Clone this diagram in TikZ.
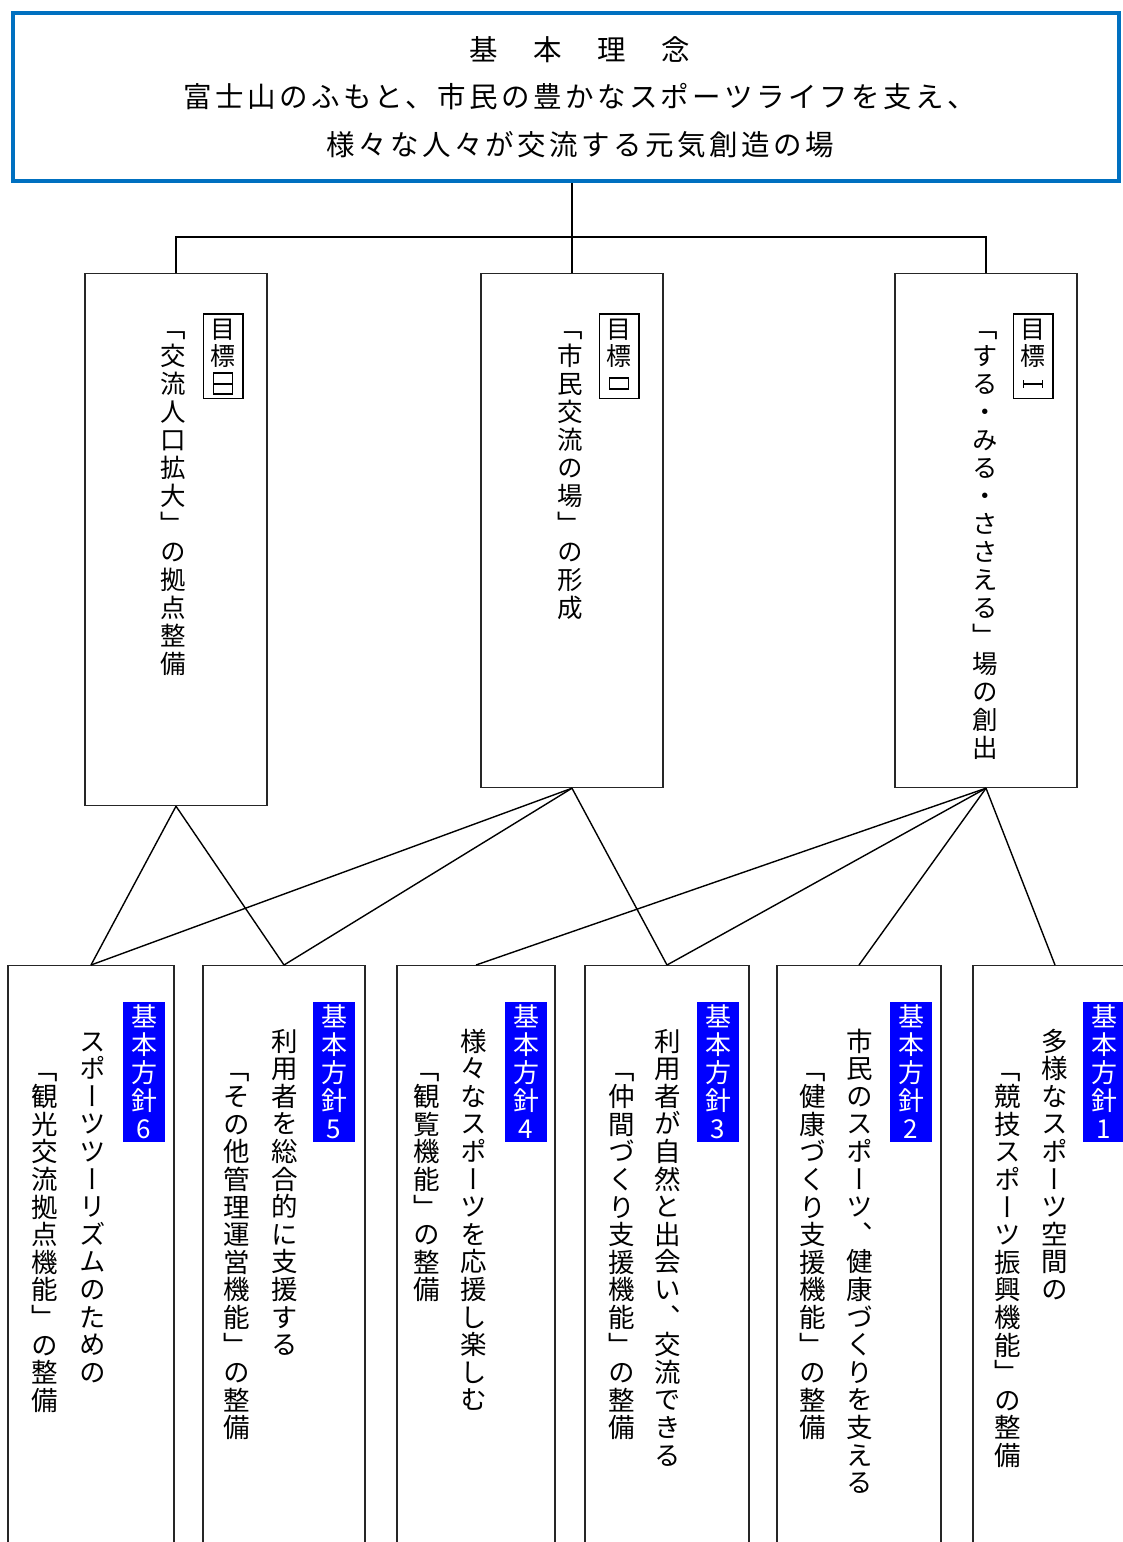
\documentclass[tikz,border=0pt]{standalone}
\usepackage{fontspec}
\usepackage{graphicx}
\setmainfont{Noto Sans CJK JP}
\newfontfamily\tatefont{Noto Sans CJK JP}[RawFeature=+vert] % vertical forms of 「」、ー
\newfontfamily\yokofont{Noto Sans CJK JP}[LetterSpace=12]
\usetikzlibrary{positioning}

\definecolor{rinenblue}{RGB}{0,112,192}
\definecolor{houshinblue}{RGB}{0,0,255}

% vertical writing: one character per cell, cells stacked downwards
\newlength\tpitch
\newcommand\tchar[1]{\hbox to\tpitch{\hss\vrule height\dimexpr.5\tpitch+.38em\relax depth\dimexpr.5\tpitch-.38em\relax width0pt\smash{#1}\hss}}
\def\tateend{}
\def\tatelist#1{\ifx#1\tateend\else\tchar{#1}\expandafter\tatelist\fi}
\newcommand\tate[1]{\vbox{\offinterlineskip\tatelist#1\tateend}}

% roman numeral lying on its side: #1 height, #2 raise, #3 strokes
\newcommand\sideroman[3]{\raise#2\hbox{\vrule width1.4pt height#1 depth0pt\vbox to#1{#3}\vrule width1.4pt height#1 depth0pt}}
\newcommand\romanstroke{\hrule width.7em height2pt}

\tikzset{
    x=1pt, y=-1pt, % pixel units, y grows downwards
    rinen/.style={draw=rinenblue, line width=4pt, minimum width=1106pt, minimum height=168pt}, % top box
    rinentext/.style={align=center, font=\yokofont\fontsize{28.5}{47.5}\selectfont},
    goal/.style={draw=black!85, line width=1.2pt, minimum width=182pt, anchor=north, inner sep=0pt},
    goallabel/.style={draw, line width=1.5pt, inner xsep=6pt, inner ysep=1pt, anchor=north,
        font=\tatefont\fontsize{25}{25}\selectfont, execute at begin node={\setlength\tpitch{27.5pt}}},
    goaltext/.style={inner sep=0pt, anchor=north,
        font=\tatefont\fontsize{25.5}{25.5}\selectfont, execute at begin node={\setlength\tpitch{28pt}}},
    policy/.style={draw=black!85, line width=1.2pt, minimum height=600pt, anchor=north, inner sep=0pt},
    policylabel/.style={fill=houshinblue, text=white, inner xsep=7pt, inner ysep=0pt, anchor=north,
        font=\tatefont\fontsize{26}{26}\selectfont, execute at begin node={\setlength\tpitch{28pt}}},
    policytext/.style={inner sep=0pt, anchor=north,
        font=\tatefont\fontsize{26.5}{26.5}\selectfont, execute at begin node={\setlength\tpitch{27.6pt}}},
    link/.style={line width=1.4pt},
}

\begin{document}
\begin{tikzpicture}
\useasboundingbox (0,0) rectangle (1123,1542);
\clip (0,0) rectangle (1123,1542);

% basic idea
\node[rinen] (rinen) at (566,97) {};
\node[rinentext] (rinentxt) at (580,97) {基　本　理　念\\富士山のふもと、市民の豊かなスポーツライフを支え、\\様々な人々が交流する元気創造の場};

% goals
\node[goal, minimum height=532pt] (mk3) at (176,273) {};
\node[goal, minimum height=514pt] (mk2) at (572,273) {};
\node[goal, minimum height=514pt] (mk1) at (986,273) {};
\node[goallabel] (ml3) at (223,313) {\vbox{\offinterlineskip\tchar{目}\tchar{標}\tchar{\sideroman{.9em}{-.07em}{\romanstroke\vfil\romanstroke\vfil\romanstroke}}}};
\node[goallabel] (ml2) at (619,313) {\vbox{\offinterlineskip\tchar{目}\tchar{標}\tchar{\sideroman{.5em}{.13em}{\romanstroke\vfil\romanstroke}}}};
\node[goallabel] (ml1) at (1033,313) {\vbox{\offinterlineskip\tchar{目}\tchar{標}\tchar{\sideroman{.32em}{.22em}{\vfil\romanstroke\vfil}}}};
\node[goaltext] (mt3) at (173,314) {\tate{「交流人口拡大」の拠点整備}};
\node[goaltext] (mt2) at (570,314) {\tate{「市民交流の場」の形成}};
\node[goaltext] (mt1) at (985,314) {\tate{「する・みる・ささえる」場の創出}};

% basic policies
\node[policy, minimum width=166pt] (hs6) at (91,965) {};
\node[policy, minimum width=162pt] (hs5) at (284,965) {};
\node[policy, minimum width=158pt] (hs4) at (476,965) {};
\node[policy, minimum width=164pt] (hs3) at (667,965) {};
\node[policy, minimum width=164pt] (hs2) at (859,965) {};
\node[policy, minimum width=164pt] (hs1) at (1055,965) {};

\node[policylabel] (hl6) at (144,1002) {\tate{基本方針6}};
\node[policylabel] (hl5) at (334,1002) {\tate{基本方針5}};
\node[policylabel] (hl4) at (526,1002) {\tate{基本方針4}};
\node[policylabel] (hl3) at (718,1002) {\tate{基本方針3}};
\node[policylabel] (hl2) at (911,1002) {\tate{基本方針2}};
\node[policylabel] (hl1) at (1104,1002) {\tate{基本方針1}};

\node[policytext] (ha6) at (93,1027) {\tate{スポーツツーリズムのための}};
\node[policytext] (hb6) at (45,1055) {\tate{「観光交流拠点機能」の整備}};
\node[policytext] (ha5) at (285,1027) {\tate{利用者を総合的に支援する}};
\node[policytext] (hb5) at (237,1055) {\tate{「その他管理運営機能」の整備}};
\node[policytext] (ha4) at (474,1027) {\tate{様々なスポーツを応援し楽しむ}};
\node[policytext] (hb4) at (427,1055) {\tate{「観覧機能」の整備}};
\node[policytext] (ha3) at (668,1027) {\tate{利用者が自然と出会い、交流できる}};
\node[policytext] (hb3) at (622,1055) {\tate{「仲間づくり支援機能」の整備}};
\node[policytext] (ha2) at (860,1027) {\tate{市民のスポーツ、健康づくりを支える}};
\node[policytext] (hb2) at (813,1055) {\tate{「健康づくり支援機能」の整備}};
\node[policytext] (ha1) at (1055,1027) {\tate{多様なスポーツ空間の}};
\node[policytext] (hb1) at (1008,1055) {\tate{「競技スポーツ振興機能」の整備}};

% tree from the basic idea to the goals
\coordinate (bus) at (575,237);
\draw[link] (rinen.south -| mk2.north) -- (mk2.north);
\draw[link] (mk3.north) |- (bus) -| (mk1.north);

% goals to policies
\draw[link]
(mk3.south) edge (hs6.north)
(mk3.south) edge (hs5.north)
(mk2.south) edge (hs6.north)
(mk2.south) edge (hs5.north)
(mk2.south) edge (hs3.north)
(mk1.south) edge (hs4.north)
(mk1.south) edge (hs3.north)
(mk1.south) edge (hs2.north)
(mk1.south) edge (hs1.north);
\end{tikzpicture}
\end{document}
